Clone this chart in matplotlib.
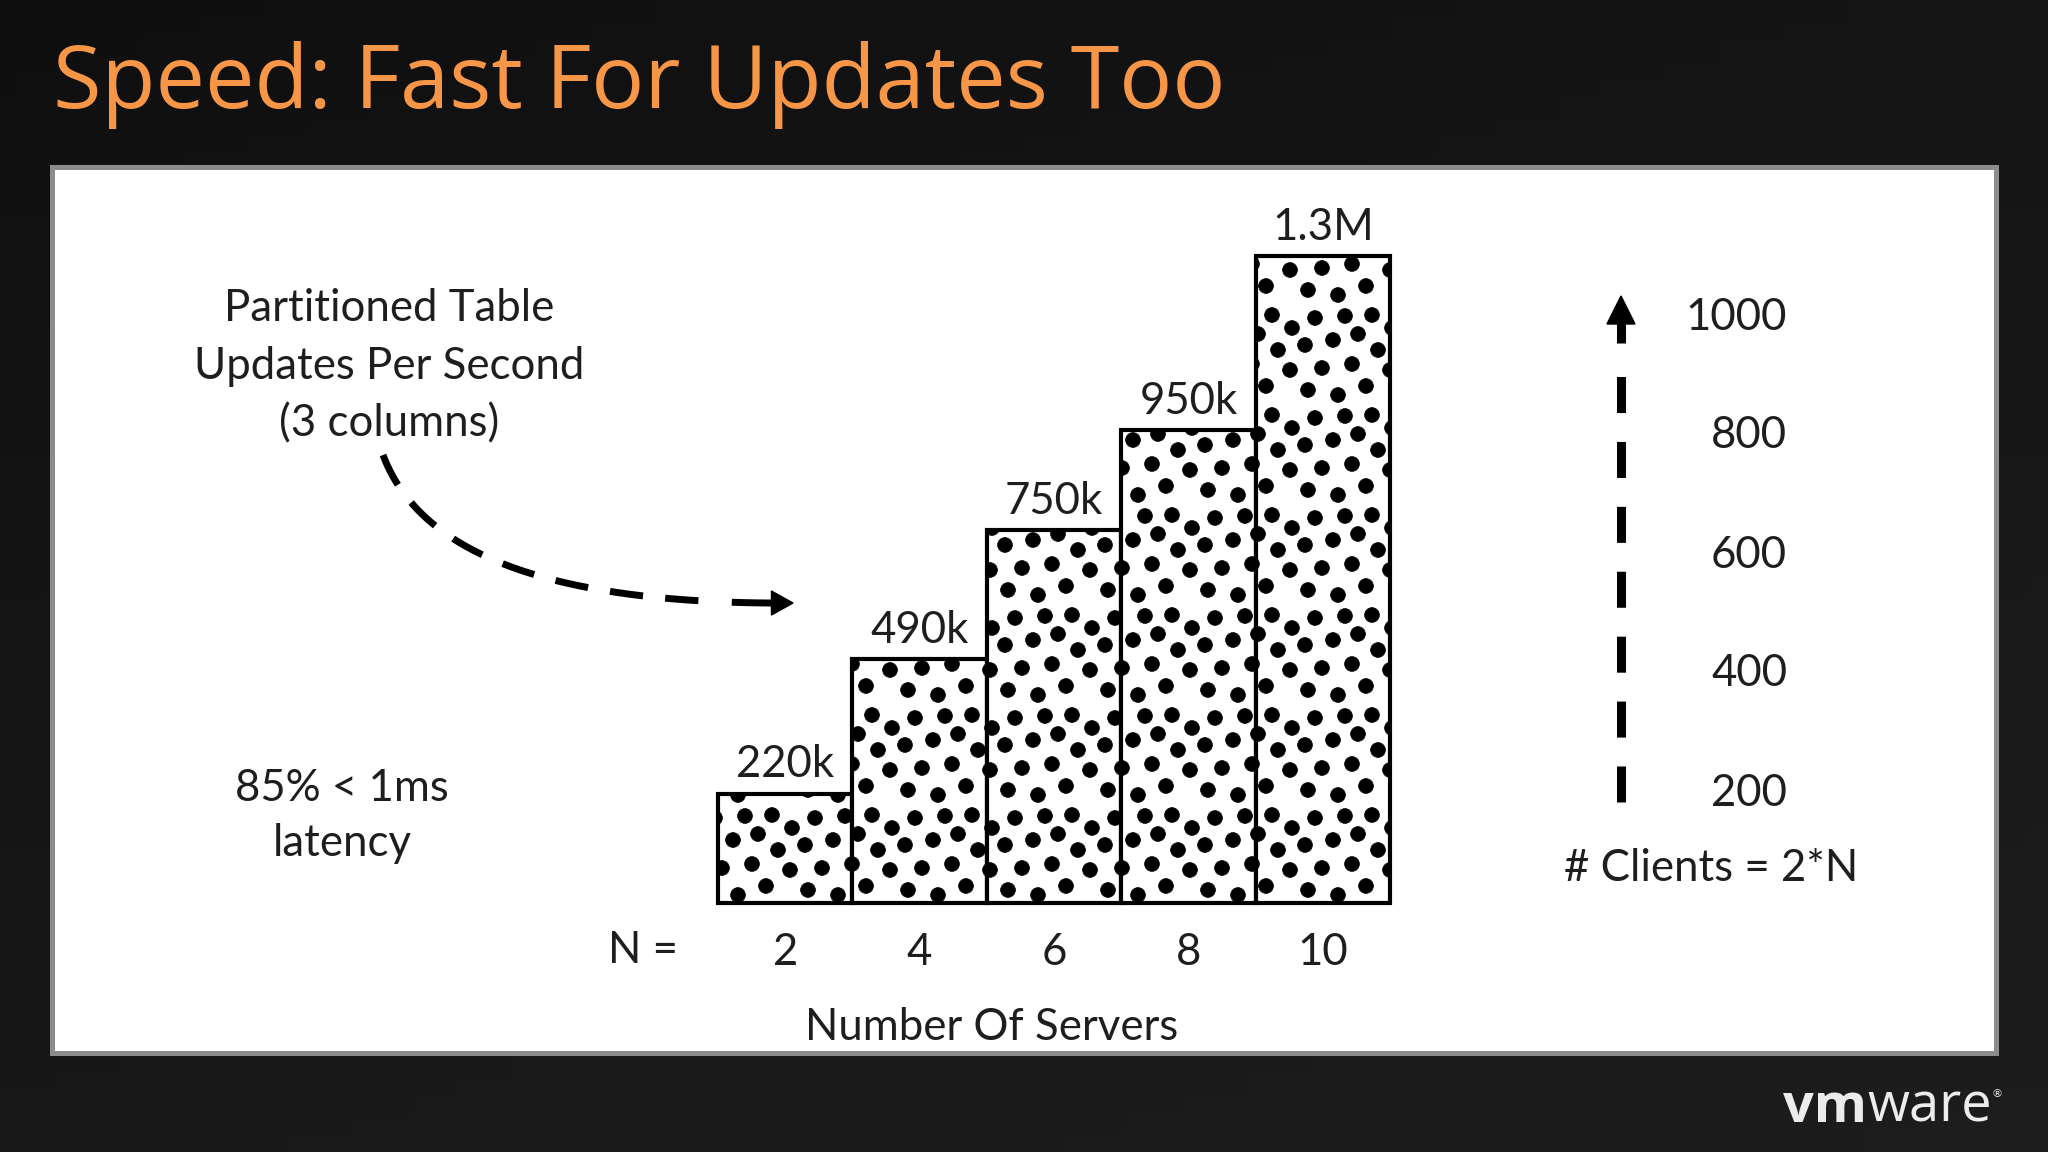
import numpy as np
import matplotlib
matplotlib.use('Agg')
import matplotlib.pyplot as plt
import matplotlib.hatch as mhatch
from matplotlib.path import Path
from matplotlib.patches import Rectangle, Polygon
from matplotlib.transforms import blended_transform_factory

# Data
servers = [2, 4, 6, 8, 10]
updates_k = [220, 490, 750, 950, 1300]
bar_labels = ['220k', '490k', '750k', '950k', '1.3M']
clients = [200, 400, 600, 800, 1000]

title = 'Speed: Fast For Updates Too'
note_lines = ['Partitioned Table', 'Updates Per Second', '(3 columns)']
latency_lines = ['85% < 1ms', 'latency']

W, H = 2048, 1152
ink = '#1e1e1e'
chart_font = 'Lato'
fs = 31.5

# Dot texture tile for the '.' hatch (unit tile, dot radius in tile units)
dot_r = 0.074
dot_tile = [(0.08, 0.10), (0.38, 0.05), (0.66, 0.14), (0.90, 0.30),
            (0.22, 0.32), (0.52, 0.36), (0.78, 0.50), (0.05, 0.55),
            (0.33, 0.60), (0.58, 0.66), (0.15, 0.82), (0.45, 0.84),
            (0.72, 0.85), (0.92, 0.72)]


class DotTexture(mhatch.HatchPatternBase):
    # scattered big filled dots instead of the tiny '.' grid

    def __init__(self, hatch, density):
        circ = Path.unit_circle()
        self.shape_vertices = circ.vertices * dot_r
        self.shape_codes = circ.codes
        self.centers = []
        if hatch.count('.'):
            for px, py in dot_tile:
                for ox in (-1, 0, 1):
                    for oy in (-1, 0, 1):
                        cx, cy = px + ox, py + oy
                        if -dot_r < cx < 1 + dot_r and -dot_r < cy < 1 + dot_r:
                            self.centers.append((cx, cy))
        self.num_vertices = len(self.centers) * len(self.shape_vertices)

    def set_vertices_and_codes(self, vertices, codes):
        k = len(self.shape_vertices)
        for i, c in enumerate(self.centers):
            vertices[i * k:(i + 1) * k] = self.shape_vertices + c
            codes[i * k:(i + 1) * k] = self.shape_codes


mhatch._hatch_types = [DotTexture if t is mhatch.SmallFilledCircles else t
                       for t in mhatch._hatch_types]
plt.rcParams['hatch.linewidth'] = 0.5


def frac(x0, y0, x1, y1):
    # pixel box (top-left origin) -> figure fraction rect
    return [x0 / W, 1 - y1 / H, (x1 - x0) / W, (y1 - y0) / H]


fig = plt.figure(figsize=(W / 100, H / 100), dpi=100, facecolor='#161616')

# Background / slide layer in pixel coordinates
ax0 = fig.add_axes([0, 0, 1, 1])
ax0.set_xlim(0, W)
ax0.set_ylim(H, 0)
ax0.axis('off')

yy, xx = np.mgrid[0:1:60j, 0:1:100j]
bg = 0.06 + 0.035 * yy + 0.02 * xx
ax0.imshow(bg, extent=[0, W, H, 0], cmap='gray', vmin=0, vmax=1,
           aspect='auto', zorder=0)

ax0.add_patch(Rectangle((51.5, 166.5), 1944, 886, facecolor='white',
                        edgecolor='#8c8c8c', linewidth=3.6, zorder=1))

ax0.text(53, 108, title, fontsize=63.5, color='#F79646', family='Open Sans',
         ha='left', va='baseline', zorder=2)

# left annotations
for line, yb in zip(note_lines, [321, 379, 436]):
    ax0.text(389, yb, line, fontsize=fs, color=ink, family=chart_font,
             ha='center', va='baseline', zorder=2)
for line, yb in zip(latency_lines, [801, 856]):
    ax0.text(342, yb, line, fontsize=fs, color=ink, family=chart_font,
             ha='center', va='baseline', zorder=2)

ax0.text(643, 963, 'N =', fontsize=fs, color=ink, family=chart_font,
         ha='center', va='baseline', zorder=2)
ax0.text(992, 1040, 'Number Of Servers', fontsize=fs, color=ink,
         family=chart_font, ha='center', va='baseline', zorder=2)
ax0.text(1711, 881, '# Clients = 2*N', fontsize=fs, color=ink,
         family=chart_font, ha='center', va='baseline', zorder=2)

# curved dashed pointer
p0, c1, c2, p3 = map(np.array, [(383, 455), (415, 540), (520, 605), (793, 603)])
t = np.linspace(0, 1, 600)[:, None]
curve = ((1 - t) ** 3) * p0 + 3 * t * (1 - t) ** 2 * c1 + 3 * t ** 2 * (1 - t) * c2 + t ** 3 * p3
seg = np.hypot(*np.diff(curve, axis=0).T)
s = np.concatenate([[0], np.cumsum(seg)])
total = s[-1]
dash_part = curve[s <= total - 86]
ax0.plot(dash_part[:, 0], dash_part[:, 1], color='black', lw=5,
         linestyle=(0, (4.8, 3.2)), solid_capstyle='butt', zorder=3)
shaft = curve[(s >= total - 62) & (s <= total - 20)]
ax0.plot(shaft[:, 0], shaft[:, 1], color='black', lw=5,
         solid_capstyle='butt', zorder=3)
base = curve[np.searchsorted(s, total - 22)]
d = (p3 - base) / np.hypot(*(p3 - base))
nrm = np.array([-d[1], d[0]])
ax0.add_patch(Polygon([base + 12 * nrm, base - 12 * nrm, p3],
                      closed=True, color='black', zorder=3))

# vertical dashed clients arrow
ax0.plot([1621, 1621], [802, 372], color='black', lw=6.5,
         linestyle=(0, (3.99, 3.2)), zorder=3)
ax0.plot([1621, 1621], [343, 322], color='black', lw=6.5,
         solid_capstyle='butt', zorder=3)
ax0.add_patch(Polygon([(1607, 324), (1635, 324), (1621, 296)], closed=True,
                      color='black', zorder=3))

# vmware logo
vm = ax0.text(1783, 1122, 'vm', fontsize=39, color='#ececec',
              family='Open Sans', fontweight='bold', ha='left', va='baseline',
              zorder=2)
ware = ax0.annotate('ware', xy=(1, 0), xycoords=vm, fontsize=39,
                    color='#ececec', family='Open Sans', ha='left',
                    va='bottom', zorder=2)
ax0.annotate('®', xy=(1, 0.75), xycoords=ware, fontsize=8,
             color='#ececec', family='DejaVu Sans', ha='left', va='center',
             zorder=2)

# Bar chart
ax = fig.add_axes(frac(718, 206.5, 1390, 903))
ax.patch.set_alpha(0)
ax.set_xlim(-0.5, len(servers) - 0.5)
ax.set_ylim(0, 1400)
bars = ax.bar(range(len(servers)), updates_k, width=1.0, color='white',
              edgecolor='black', linewidth=3, hatch='.', clip_on=False)
ax.bar_label(bars, labels=bar_labels, padding=6, fontsize=fs, color=ink,
             family=chart_font)
ax.set_xticks(range(len(servers)), [str(n) for n in servers])
for lbl in ax.get_xticklabels():
    lbl.set_fontsize(fs)
    lbl.set_family(chart_font)
    lbl.set_color(ink)
ax.tick_params(axis='x', length=0, pad=21)
ax.set_yticks([])
for sp in ax.spines.values():
    sp.set_visible(False)

# Clients scale
axc = fig.add_axes(frac(1600, 313, 1790, 789))
axc.set_ylim(clients[0], clients[-1])
axc.axis('off')
tr = blended_transform_factory(axc.transAxes, axc.transData)
for c in clients:
    axc.text(0.985, c, str(c), transform=tr, fontsize=fs, color=ink,
             family=chart_font, ha='right', va='center_baseline')

fig.savefig('out.png', dpi=100, facecolor=fig.get_facecolor())
